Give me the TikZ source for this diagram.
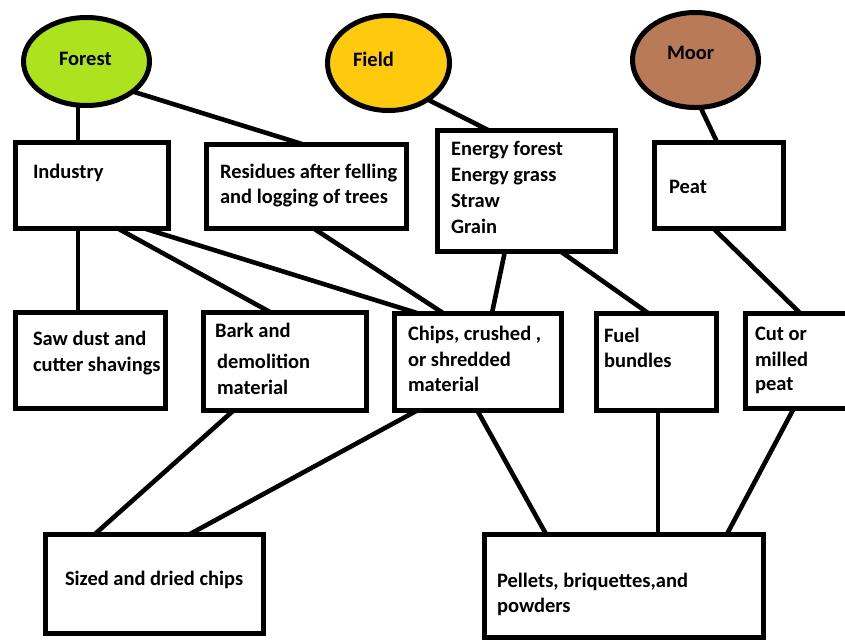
\documentclass[tikz,border=0pt]{standalone}
\usepackage{fontspec}
\setmainfont{Carlito}
\usetikzlibrary{shapes.geometric,calc,backgrounds}
\definecolor{forestc}{HTML}{ADE21E}
\definecolor{fieldc}{HTML}{FFC90E}
\definecolor{moorc}{HTML}{B97A57}
\tikzset{
  box/.style={draw=black, line width=5pt, fill=white, rectangle, inner sep=0pt, outer sep=0pt},
  blob/.style={draw=black, line width=5pt, ellipse, inner sep=0pt, outer sep=0pt},
  lbl/.style={anchor=base west, inner sep=0pt, outer sep=0pt, font=\fontsize{20.5}{26}\selectfont\bfseries},
  link/.style={line width=4.6pt, draw=black},
}
\newcommand\mkbox[5]{\node[box, minimum width=#4pt-#2pt, minimum height=#5pt-#3pt] (#1) at ({(#2+#4)/2},{(#3+#5)/2}) {};}
\begin{document}
\begin{tikzpicture}[x=1pt, y=-1pt]
\useasboundingbox (0,0) rectangle (845,641);
\clip (0,0) rectangle (845,641);
% sources
\node[blob, fill=forestc, minimum width=126pt, minimum height=88pt] (forest) at (86.5,61.5) {};
\node[blob, fill=fieldc, minimum width=122pt, minimum height=95pt] (field) at (388.5,63) {};
\node[blob, fill=moorc, minimum width=126pt, minimum height=95pt] (moor) at (695.5,60) {};
% boxes
\mkbox{ind}{15}{142}{168}{228}
\mkbox{res}{206}{144}{406}{228}
\mkbox{eng}{437}{130}{615}{251}
\mkbox{peat}{654}{142}{783}{228}
\mkbox{saw}{15}{312}{165}{408}
\mkbox{bark}{203}{312}{366}{410}
\mkbox{chips}{394}{313}{561}{410}
\mkbox{fuel}{596}{313}{716}{410}
\mkbox{cut}{745}{313}{850}{408}
\mkbox{sized}{45}{534}{263}{633}
\mkbox{pel}{484}{534}{763}{637}
% labels
\node[lbl] (tForest) at (59,65) {Forest};
\node[lbl] (tField) at (353,66) {Field};
\node[lbl] (tMoor) at (667,59.5) {Moor};
\node[lbl] (tInd) at (33,178.5) {Industry};
\node[lbl] (tRes1) at (220,178.5) {Residues after felling};
\node[lbl] (tRes2) at (220,203.5) {and logging of trees};
\node[lbl] (tEng1) at (451,155) {Energy forest};
\node[lbl] (tEng2) at (451,181) {Energy grass};
\node[lbl] (tEng3) at (451,207) {Straw};
\node[lbl] (tEng4) at (451,233) {Grain};
\node[lbl] (tPeat) at (669,193) {Peat};
\node[lbl] (tSaw1) at (33,345) {Saw dust and};
\node[lbl] (tSaw2) at (33,371) {cutter shavings};
\node[lbl] (tBark1) at (215,337) {Bark and};
\node[lbl] (tBark2) at (217,368) {demolition};
\node[lbl] (tBark3) at (217,394) {material};
\node[lbl] (tChips1) at (408,340) {Chips, crushed ,};
\node[lbl] (tChips2) at (408,366) {or shredded};
\node[lbl] (tChips3) at (408,391) {material};
\node[lbl] (tFuel1) at (604,342) {Fuel};
\node[lbl] (tFuel2) at (604,367) {bundles};
\node[lbl] (tCut1) at (755,340) {Cut or};
\node[lbl] (tCut2) at (755,366) {milled};
\node[lbl] (tCut3) at (755,390) {peat};
\node[lbl] (tSized) at (65,585) {Sized and dried chips};
\node[lbl] (tPel1) at (497,587) {Pellets, briquettes,and};
\node[lbl] (tPel2) at (497,612) {powders};
% connectors
\begin{scope}[on background layer]
\fill[white] (0,0) rectangle (845,641);
\coordinate (fi) at ($(ind.north west)+(63,0)$);
\draw[link] (fi) -- (fi |- forest.center);
\draw[link] (forest.-33) -- ($(res.north west)+(96,0)$);
\draw[link] (field.-43) -- ($(eng.north west)+(51,0)$);
\draw[link] (moor.-84) -- ($(peat.north west)+(63,0)$);
\draw[link] ($(ind.south west)+(63,0)$) -- ($(saw.north west)+(63,0)$);
\draw[link] ($(ind.south west)+(102,0)$) -- ($(bark.north west)+(67,0)$);
\draw[link] ($(ind.south west)+(128,0)$) -- ($(chips.north west)+(23,0)$);
\draw[link] ($(res.south west)+(107,0)$) -- ($(chips.north west)+(49,0)$);
\draw[link] ($(eng.south west)+(68,0)$) -- ($(chips.north west)+(98,0)$);
\draw[link] ($(eng.south west)+(123,0)$) -- ($(fuel.north west)+(52,0)$);
\draw[link] ($(peat.south west)+(59,0)$) -- ($(cut.north west)+(55,0)$);
\draw[link] ($(bark.south west)+(31,0)$) -- ($(sized.north west)+(50,0)$);
\draw[link] ($(chips.south west)+(24,0)$) -- ($(sized.north west)+(145,0)$);
\draw[link] ($(chips.south west)+(83,0)$) -- ($(pel.north west)+(62,0)$);
\draw[link] ($(fuel.south west)+(62,0)$) -- ($(pel.north west)+(174,0)$);
\draw[link] ($(cut.south west)+(49,0)$) -- ($(pel.north west)+(243,0)$);
\end{scope}
\end{tikzpicture}
\end{document}
